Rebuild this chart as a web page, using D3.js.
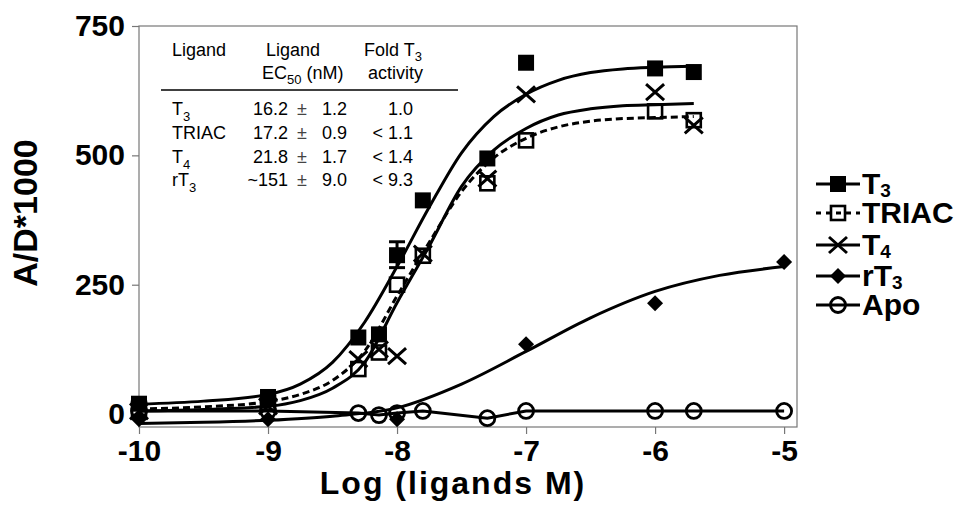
<!DOCTYPE html>
<html>
<head>
<meta charset="utf-8">
<script src="https://cdn.jsdelivr.net/npm/d3@7"></script>
<style>
  html, body { margin: 0; padding: 0; background: #fff; }
  svg { display: block; font-family: "Liberation Sans", Arial, sans-serif; }
  .frame { fill: none; stroke: #777; stroke-width: 1.2; }
  .axis path, .axis line { stroke: #777; stroke-width: 1.2; }
  .axis text { font-size: 30px; font-weight: bold; fill: #000; }
  .fit { fill: none; stroke: #000; stroke-width: 3; }
  .tbl { font-size: 18px; fill: #000; }
  .leg { font-size: 30px; font-weight: bold; fill: #000; }
</style>
</head>
<body>
<svg id="chart" width="960" height="518"></svg>
<script>
// measured concentrations, log M
const concX = [-10, -9, -8.3, -8.14, -8, -7.8, -7.3, -7, -6, -5.7];
const t3Vals = [20, 33, 148, 154, 307, 413, 494, 679, 668, 661];
const triacVals = [10, 22, 87, 119, 250, 306, 446, 529, 585, 568];
const t4Vals = [5, 15, 106, 125, 112, 310, 455, 618, 622, 558];
const rt3X = [-10, -9, -8, -7, -6, -5];
const rt3Vals = [-10, -10, -10, 135, 214, 294];
const apoX = [-10, -9, -8.3, -8.14, -8, -7.8, -7.3, -7, -6, -5.7, -5];
const apoVals = [6, 6, 2, -2, 2, 6, -8, 6, 6, 6, 6];
// only visible error bar (T3 at -8)
const errX = [-8];
const errLo = [283];
const errHi = [333];

// fitted curves
const fitX = [-10, -9.5, -9, -8.75, -8.5, -8.25, -8, -7.75, -7.5, -7.25, -7, -6.75, -6.5, -6.25, -6, -5.7];
const t3Fit = [19, 25, 38, 58, 100, 178, 285, 400, 505, 575, 618, 645, 660, 667, 670, 672];
const t4Fit = [6, 9, 15, 26, 50, 100, 215, 325, 440, 510, 552, 578, 590, 596, 598, 600];
const triacFit = [10, 14, 24, 38, 65, 122, 228, 332, 430, 495, 533, 555, 566, 571, 573, 575];
const rt3FitX = [-10, -9.5, -9, -8.5, -8, -7.5, -7, -6.5, -6, -5.5, -5];
const rt3Fit = [-18, -16, -12, -4, 12, 58, 121, 186, 237, 268, 285];

const xTicks = [-10, -9, -8, -7, -6, -5];
const yTicks = [0, 250, 500, 750];

// inset table
const tableNames = ["T", "TRIAC", "T", "rT"];
const tableSubs = ["3", "", "4", "3"];
const tableEc50 = ["16.2", "17.2", "21.8", "~151"];
const tableErr = ["1.2", "0.9", "1.7", "9.0"];
const tableFold = ["1.0", "< 1.1", "< 1.4", "< 9.3"];

// legend
const legendNames = ["T", "TRIAC", "T", "rT", "Apo"];
const legendSubs = ["3", "", "4", "3", ""];
const legendMarks = ["fsquare", "osquare", "cross", "diamond", "circle"];

const svg = d3.select("#chart");
const x = d3.scaleLinear().domain([-10, -4.9]).range([139, 797]);
const y = d3.scaleLinear().domain([-25, 750]).range([427, 26]);

// plot frame
svg.append("rect").attr("class", "frame")
  .attr("x", x(-10)).attr("y", y(750))
  .attr("width", x(-4.9) - x(-10)).attr("height", y(-25) - y(750));

svg.append("g").attr("class", "axis")
  .attr("transform", `translate(0,${y(-25)})`)
  .call(d3.axisBottom(x).tickValues(xTicks).tickFormat(d => String(d))
    .tickSize(7).tickSizeOuter(0).tickPadding(6))
  .call(g => g.select(".domain").remove());

svg.append("g").attr("class", "axis")
  .attr("transform", `translate(${x(-10)},0)`)
  .call(d3.axisLeft(y).tickValues(yTicks).tickFormat(d => String(d))
    .tickSize(7).tickSizeOuter(0).tickPadding(7))
  .call(g => g.select(".domain").remove());

svg.selectAll(".axis text").attr("font-family", null);

// axis titles
svg.append("text")
  .attr("transform", "translate(37,213) rotate(-90)")
  .attr("text-anchor", "middle")
  .style("font-size", "34px").style("font-weight", "bold")
  .text("A/D*1000");
svg.append("text")
  .attr("x", 453).attr("y", 494)
  .attr("text-anchor", "middle")
  .style("font-size", "32px").style("font-weight", "bold").style("letter-spacing", "2px")
  .text("Log (ligands M)");

// fit curves
const line = (xs) => d3.line().x((d, i) => x(xs[i])).y(d => y(d)).curve(d3.curveMonotoneX);
svg.append("path").attr("class", "fit").attr("d", line(fitX)(t3Fit));
svg.append("path").attr("class", "fit").attr("d", line(fitX)(t4Fit));
svg.append("path").attr("class", "fit").attr("stroke-dasharray", "7,4").attr("d", line(fitX)(triacFit));
svg.append("path").attr("class", "fit").attr("d", line(rt3FitX)(rt3Fit));
// apo is just connected points
svg.append("path").attr("class", "fit")
  .attr("d", d3.line().x((d, i) => x(apoX[i])).y(d => y(d))(apoVals));

// error bar
errX.forEach((ex, i) => {
  const g = svg.append("g").attr("stroke", "#000").attr("stroke-width", 3);
  g.append("line").attr("x1", x(ex)).attr("x2", x(ex)).attr("y1", y(errLo[i])).attr("y2", y(errHi[i]));
  g.append("line").attr("x1", x(ex) - 8).attr("x2", x(ex) + 8).attr("y1", y(errHi[i])).attr("y2", y(errHi[i]));
  g.append("line").attr("x1", x(ex) - 8).attr("x2", x(ex) + 8).attr("y1", y(errLo[i])).attr("y2", y(errLo[i]));
});

function marker(g, type) {
  if (type === "fsquare") {
    g.append("rect").attr("x", -8).attr("y", -8).attr("width", 16).attr("height", 16).attr("fill", "#000");
  } else if (type === "osquare") {
    g.append("rect").attr("x", -7).attr("y", -7).attr("width", 14).attr("height", 14)
      .attr("fill", "#fff").attr("fill-opacity", 0).attr("stroke", "#000").attr("stroke-width", 2.6);
  } else if (type === "cross") {
    g.append("path").attr("d", "M-9,-8L9,8M-9,8L9,-8")
      .attr("stroke", "#000").attr("stroke-width", 3).attr("fill", "none");
  } else if (type === "diamond") {
    g.append("path").attr("d", "M0,-8L8,0L0,8L-8,0Z").attr("fill", "#000");
  } else {
    g.append("circle").attr("r", 7.5).attr("fill", "none").attr("stroke", "#000").attr("stroke-width", 2.8);
  }
}

function points(xs, vs, type) {
  svg.append("g").selectAll("g").data(vs).join("g")
    .attr("transform", (d, i) => `translate(${x(xs[i])},${y(d)})`)
    .each(function () { marker(d3.select(this), type); });
}
points(apoX, apoVals, "circle");
points(rt3X, rt3Vals, "diamond");
points(concX, triacVals, "osquare");
points(concX, t4Vals, "cross");
points(concX, t3Vals, "fsquare");

// inset table
const tbl = svg.append("g").attr("class", "tbl");
function subText(sel, main, sub, subSize, dy) {
  sel.append("tspan").text(main);
  if (sub) sel.append("tspan").attr("dy", dy).style("font-size", subSize).text(sub);
  return sel;
}
tbl.append("text").attr("x", 172).attr("y", 56).text("Ligand");
tbl.append("text").attr("x", 266).attr("y", 56).text("Ligand");
subText(tbl.append("text").attr("x", 364).attr("y", 56), "Fold T", "3", "13px", 5);
subText(tbl.append("text").attr("x", 262).attr("y", 79), "EC", "50", "13px", 5)
  .append("tspan").attr("dy", -5).text(" (nM)");
tbl.append("text").attr("x", 368).attr("y", 79).text("activity");
tbl.append("line").attr("x1", 161).attr("x2", 458).attr("y1", 90).attr("y2", 90)
  .attr("stroke", "#000").attr("stroke-width", 1.4);

const rowY = [115, 139, 163, 186];
tableNames.forEach((n, i) => {
  subText(tbl.append("text").attr("x", 172).attr("y", rowY[i]), n, tableSubs[i], "13px", 6);
  tbl.append("text").attr("x", 288).attr("y", rowY[i]).attr("text-anchor", "end").text(tableEc50[i]);
  tbl.append("text").attr("x", 302).attr("y", rowY[i]).attr("text-anchor", "middle").text("±")
    .style("fill", "#444");
  tbl.append("text").attr("x", 347).attr("y", rowY[i]).attr("text-anchor", "end").text(tableErr[i]);
  tbl.append("text").attr("x", 413).attr("y", rowY[i]).attr("text-anchor", "end").text(tableFold[i]);
});

// legend
const legY = [184, 213, 245, 276, 305];
legendNames.forEach((n, i) => {
  const g = svg.append("g").attr("transform", `translate(0,${legY[i]})`);
  g.append("line").attr("x1", 816).attr("x2", 860).attr("y1", 0).attr("y2", 0)
    .attr("stroke", "#000").attr("stroke-width", 3)
    .attr("stroke-dasharray", legendMarks[i] === "osquare" ? "5,5" : null);
  marker(g.append("g").attr("transform", "translate(838,0)"), legendMarks[i]);
  const t = g.append("text").attr("class", "leg").attr("x", 862).attr("y", 10);
  subText(t, n, legendSubs[i], "19px", 3);
});
</script>
</body>
</html>
